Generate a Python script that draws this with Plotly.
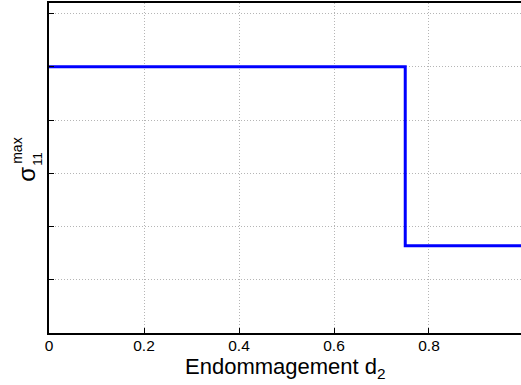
import plotly.graph_objects as go

# step curve: damage d2 vs max stress (arbitrary units, y ticks unlabelled)
d2 = [0.0, 0.75, 0.75, 1.0]
sigma_max = [5.0, 5.0, 1.64, 1.64]
x_ticks = [0, 0.2, 0.4, 0.6, 0.8]
x_tick_labels = ["0", "0.2", "0.4", "0.6", "0.8"]
y_ticks = [1, 2, 3, 4, 5, 6]

FONT = "Liberation Sans, Arial, Helvetica, sans-serif"

fig = go.Figure()
fig.add_trace(go.Scatter(x=d2, y=sigma_max, mode="lines",
                         line=dict(color="#0000FF", width=3), hoverinfo="skip"))

axis_common = dict(showline=True, linecolor="black", linewidth=1.5,
                   ticks="inside", ticklen=5, tickcolor="black", tickwidth=1,
                   showgrid=True, gridcolor="#b5b5b5", griddash="1px,2px", gridwidth=1,
                   zeroline=False, automargin=False,
                   tickfont=dict(family=FONT, size=15.5, color="black"))

fig.update_xaxes(range=[0, 0.9937], tickvals=x_ticks, ticktext=x_tick_labels,
                 mirror=True, ticklabelstandoff=-2, **axis_common)
fig.update_yaxes(range=[0, 6.2], tickvals=y_ticks, showticklabels=False,
                 mirror=False, **axis_common)

# MATLAB-like stacked sigma_11^max label, built from rotated pieces
def ylab(text, size, px_x, px_y):
    return dict(text=text, xref="paper", yref="paper", x=0, y=(332.7 - px_y) / 330,
                xshift=px_x - 48.5, xanchor="center", yanchor="middle",
                textangle=-90, showarrow=False,
                font=dict(family=FONT, size=size, color="black"))

xlabel = dict(text="Endommagement d<sub>2</sub>", xref="paper", yref="paper",
              x=0.5, y=0, yshift=-19, xanchor="center", yanchor="top", showarrow=False,
              font=dict(family=FONT, size=22, color="black"))

fig.update_layout(
    width=521, height=385,
    margin=dict(l=49, r=0, t=3, b=52, autoexpand=False),
    paper_bgcolor="white", plot_bgcolor="white",
    showlegend=False,
    annotations=[ylab("σ", 24, 26, 174), ylab("max", 14, 17, 151), ylab("11", 13, 37, 159), xlabel],
)

fig.write_html("out.html", config={"displayModeBar": False},
               post_script="document.body.style.margin='0';")
